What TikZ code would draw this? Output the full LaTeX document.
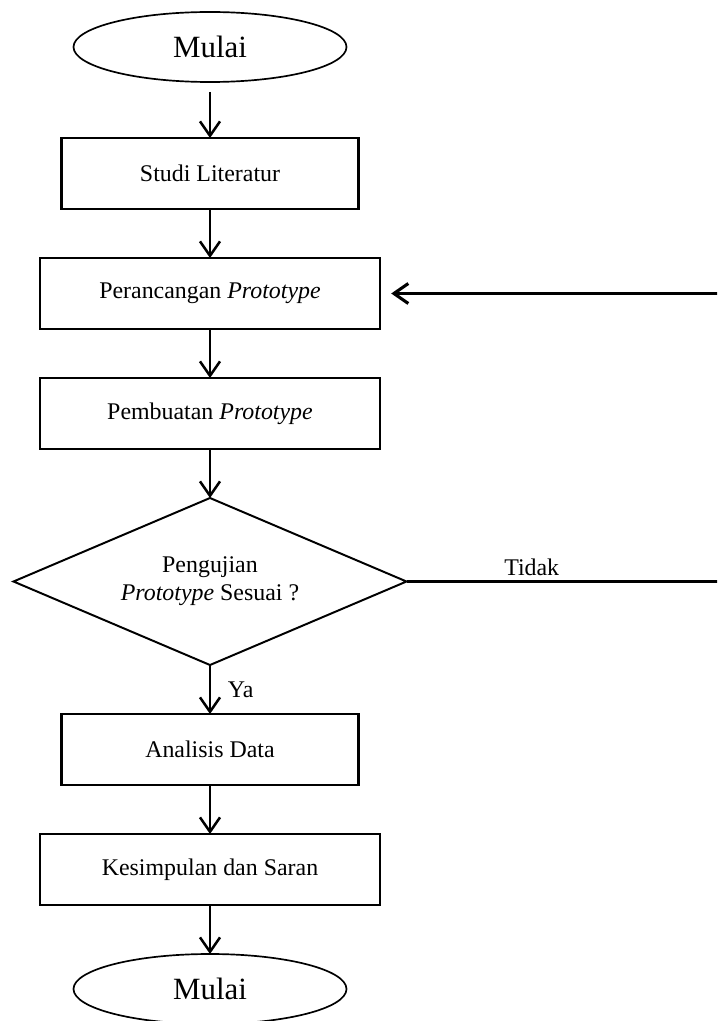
\documentclass[tikz,border=0pt]{standalone}
\usepackage{fontspec}
\setmainfont{Liberation Serif}
\usetikzlibrary{positioning,shapes.geometric,arrows.meta}

\begin{document}
\begin{tikzpicture}[
  >={Straight Barb[length=3.6mm,width=5mm]},
  node distance=1.225cm,
  terminal/.style={draw, ellipse, line width=1.2pt, outer sep=0pt, minimum width=6.825cm, minimum height=1.75cm, font=\fontsize{22}{26}\selectfont},
  process/.style={draw, line width=1.6pt, outer sep=0pt, minimum width=7.425cm, minimum height=1.775cm, font=\fontsize{17}{20}\selectfont},
  decision/.style={draw, diamond, aspect=2.35, line width=1.4pt, outer sep=0pt, minimum width=9.825cm, minimum height=4.175cm, align=center, font=\fontsize{17}{20}\selectfont},
  flow/.style={->, line width=1.8pt},
  lbl/.style={font=\fontsize{17}{20}\selectfont}
]
\clip (0,0) rectangle (17.925,-25.525);
\coordinate (fbk) at (18.4,0);

\node[terminal] (start) at (5.25,-1.175) {Mulai};
\node[process, below=1.4cm of start] (studi) {Studi Literatur};
\node[process, below=of studi, minimum width=8.5cm] (rancang) {Perancangan \textit{Prototype}};
\node[process, below=of rancang, minimum width=8.5cm] (buat) {Pembuatan \textit{Prototype}};
\node[decision, below=of buat] (uji) {Pengujian\\\textit{Prototype} Sesuai ?};
\node[process, below=of uji] (analisis) {Analisis Data};
\node[process, below=of analisis, minimum width=8.5cm] (simpul) {Kesimpulan dan Saran};
\node[terminal, below=of simpul] (selesai) {Mulai};

\draw[flow, shorten <=0.25cm] (start) -- (studi);
\draw[flow] (studi) -- (rancang);
\draw[flow] (rancang) -- (buat);
\draw[flow] (buat) -- (uji);
\draw[flow] (uji) -- node[lbl, right, xshift=0.3cm] {Ya} (analisis);
\draw[flow] (analisis) -- (simpul);
\draw[flow] (simpul) -- (selesai);
\draw[flow, line width=2.2pt] (uji.east) -- node[lbl, above, pos=0.38] {Tidak} (uji.east -| fbk) |- ([xshift=0.28cm]rancang.east);
\end{tikzpicture}
\end{document}
